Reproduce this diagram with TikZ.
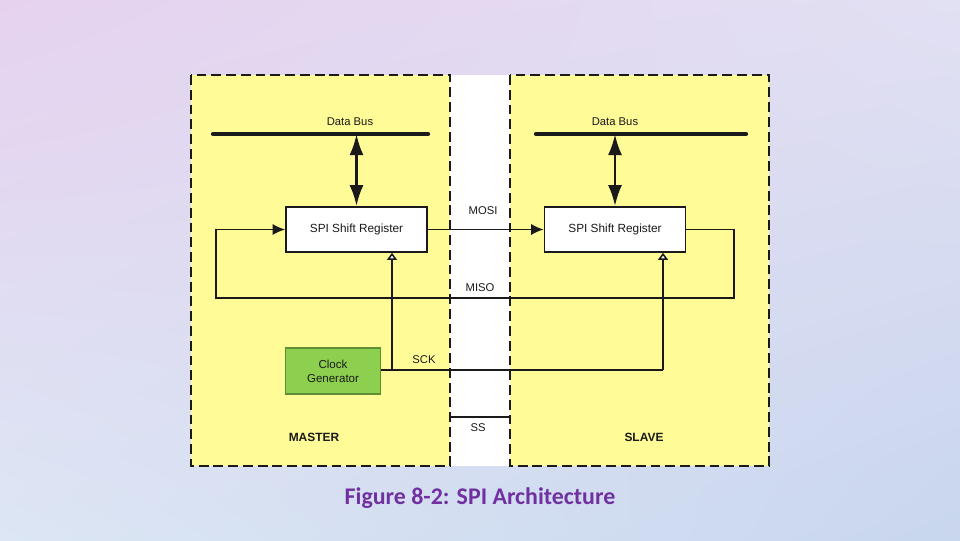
\documentclass[tikz,border=0pt]{standalone}
\usepackage{xcolor}
\usepackage{fontspec}
\setmainfont{Liberation Sans}
\newfontfamily\captionfont{Carlito}
\usepackage{tikz}
\usetikzlibrary{arrows.meta, positioning, calc, shadings}
\definecolor{bgtl}{HTML}{E6D2EF}
\definecolor{bgtr}{HTML}{E2E0F3}
\definecolor{bgbl}{HTML}{DCE6F4}
\definecolor{bgbr}{HTML}{C8D6EE}
\definecolor{panelyellow}{HTML}{FFFB96}
\definecolor{clockgreen}{HTML}{8DCF4F}
\definecolor{clockborder}{HTML}{5F8F35}
\definecolor{captionpurple}{HTML}{7030A0}
\definecolor{inkgray}{HTML}{1A1A1A}
\tikzstyle{panel} = [draw=inkgray, fill=panelyellow, line width=1.3pt, dash pattern=on 7pt off 3.5pt]
\tikzstyle{regbox} = [rectangle, draw=inkgray, fill=white, line width=1pt, minimum width=3.53cm,
  minimum height=1.13cm, text centered, font=\fontsize{8.4}{9}\selectfont, text=inkgray]
\tikzstyle{clockbox} = [rectangle, draw=clockborder, fill=clockgreen, line width=1pt, minimum width=2.36cm,
  minimum height=1.15cm, align=center, font=\fontsize{8.2}{10}\selectfont, text=inkgray]
\tikzstyle{lbl} = [font=\fontsize{8}{9}\selectfont, text=inkgray, inner sep=0pt]
\tikzstyle{bus} = [line width=3pt, line cap=round, inkgray]
\tikzstyle{dbarrow} = [line width=2pt, {Latex[length=15pt,width=10pt]}-{Latex[length=15pt,width=10pt]}, inkgray]
\tikzstyle{sig} = [line width=1.1pt, inkgray]
\tikzstyle{arrow} = [sig, -{Latex[length=9pt,width=8pt]}]
\tikzstyle{clkarrow} = [sig, -{Triangle[open,length=5pt,width=7pt,fill=white]}]

\begin{document}
\begin{tikzpicture}[x=0.025cm, y=-0.025cm]
  % background
  \shade[upper left=bgtl, upper right=bgtr, lower left=bgbl, lower right=bgbr] (0,0) rectangle (960,540);
  \useasboundingbox (0,0) rectangle (960,540);

  % panels
  \fill[white] (450,75) rectangle (510,466);
  \draw[panel] (191,75) rectangle (450,466);
  \draw[panel] (510,75) rectangle (769,466);

  % nodes
  \node (mreg) [regbox] at (356.5,229.5) {SPI Shift Register};
  \node (sreg) [regbox] at (615,229.5) {SPI Shift Register};
  \node (clk) [clockbox] at (333,371) {Clock\\Generator};

  \node (mbus) [lbl] at (350,122) {Data Bus};
  \node (sbus) [lbl] at (615,122) {Data Bus};
  \node (mosi) [lbl] at (483,211) {MOSI};
  \node (miso) [lbl] at (480,288) {MISO};
  \node (sck) [lbl] at (424,360) {SCK};
  \node (ss) [lbl] at (478,428) {SS};
  \node (master) [lbl, font=\fontsize{8.5}{10}\selectfont\bfseries] at (314,437) {MASTER};
  \node (slave) [lbl, font=\fontsize{8.5}{10}\selectfont\bfseries] at (644,437) {SLAVE};

  \coordinate (mbusL) at (213,134);
  \coordinate (mbusR) at (428,134);
  \coordinate (sbusL) at (536,134);
  \coordinate (sbusR) at (746,134);
  \coordinate (misoR) at (734,298);
  \coordinate (misoL) at (216,298);
  \coordinate (sckR) at (663,370);
  \coordinate (sckM) at (392,370);
  \coordinate (ssL) at (450,417);
  \coordinate (ssR) at (510,417);

  % data buses
  \draw[bus] (mbusL) -- (mbusR);
  \draw[bus] (sbusL) -- (sbusR);
  \draw[dbarrow] (mreg.north |- mbusL) -- (mreg.north);
  \draw[dbarrow] (sreg.north |- sbusL) -- (sreg.north);

  % MOSI and MISO
  \draw[arrow] (mreg.east) -- (sreg.west);
  \draw[arrow] (sreg.east) -| (misoR) -- (misoL) |- (mreg.west);

  % SCK
  \draw[sig] (clk.east |- sckR) -- (sckR);
  \draw[clkarrow] (sckR) -- (sckR |- sreg.south);
  \draw[clkarrow] (sckM) -- (sckM |- mreg.south);

  % SS
  \draw[sig] (ssL) -- (ssR);

  % caption
  \node (cap) [font=\captionfont\bfseries\fontsize{17}{19}\selectfont, text=captionpurple] at (480,498)
    {Figure 8-2: SPI Architecture};
\end{tikzpicture}
\end{document}
